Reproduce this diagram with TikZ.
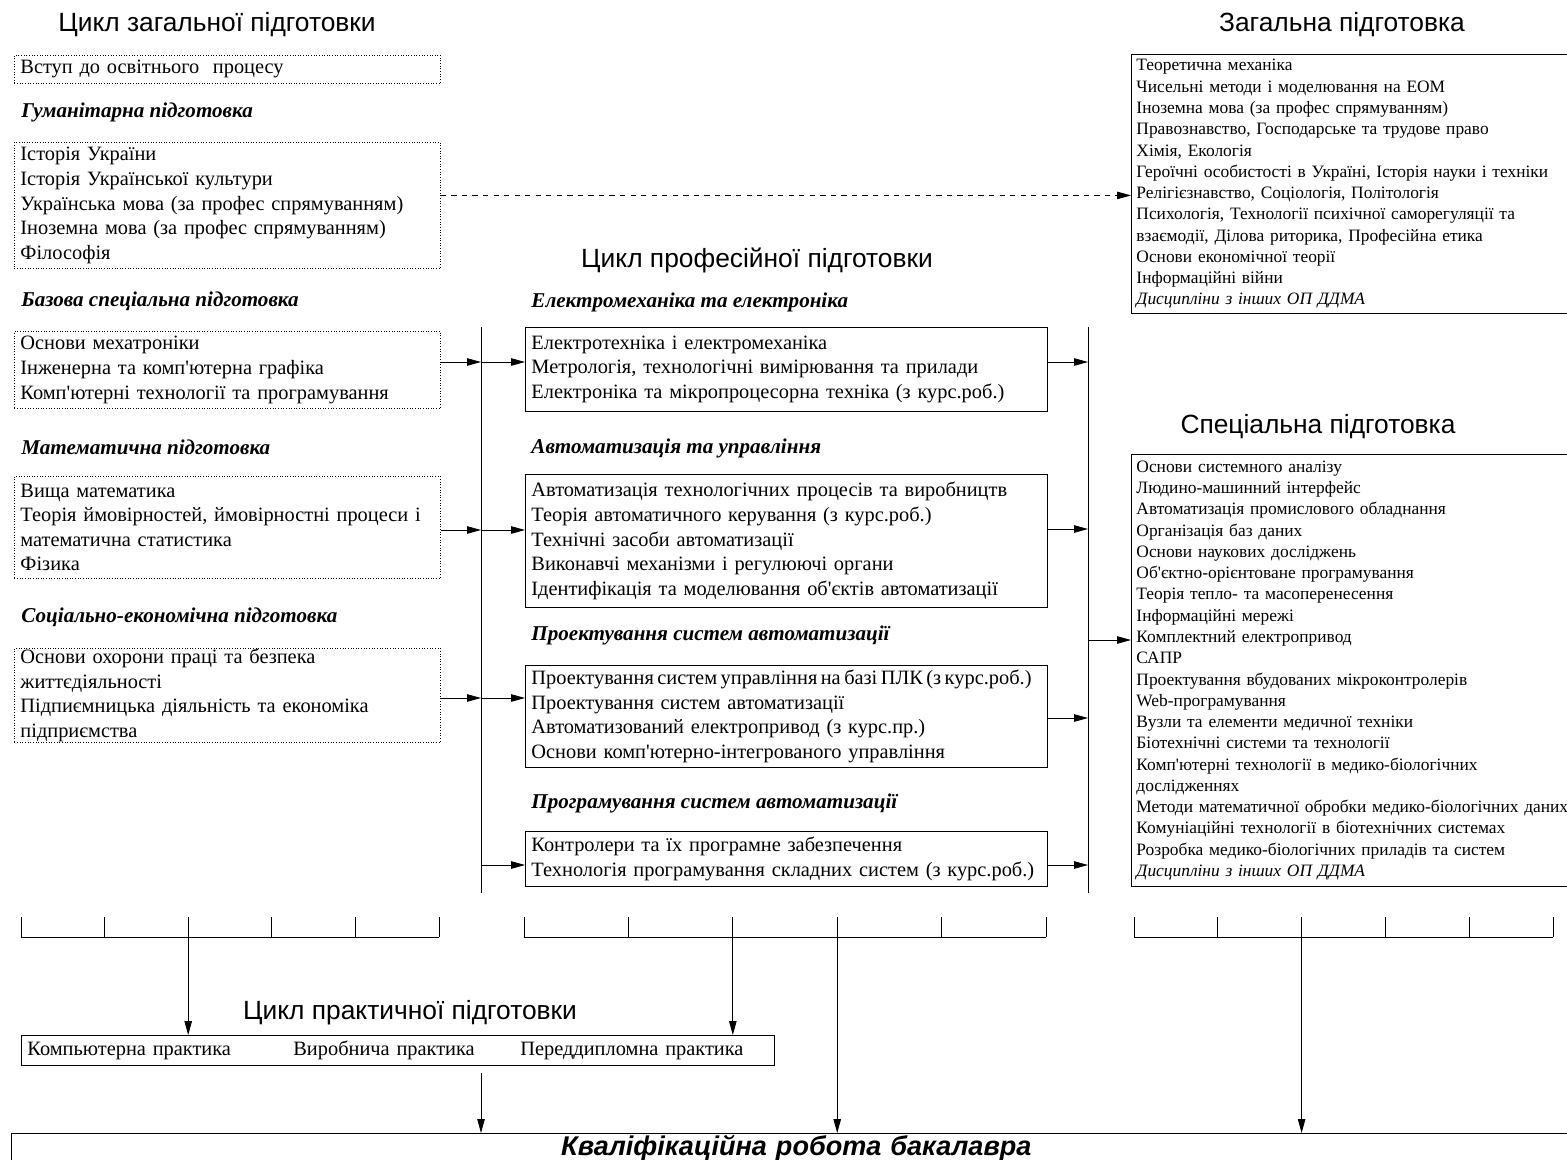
\documentclass[tikz,border=0pt]{standalone}
\usepackage{fontspec}
\setmainfont{Liberation Serif}
\setsansfont{Liberation Sans}
\usetikzlibrary{arrows.meta,calc}

\newcommand\boxfont{\fontsize{11.6}{14}\selectfont}
\newcommand\listfont{\fontsize{9.9}{12.1}\selectfont}
\newcommand\headfont{\fontsize{12}{14}\selectfont\bfseries\itshape}
\newcommand\cyclefont{\fontsize{15}{18}\selectfont\sffamily}
\newcommand\ap{\textquotesingle}
\newcommand\tight[1]{{\spaceskip=0.17em plus 0.02em\relax #1}}

\tikzset{
  >={Triangle[length=0.28cm,width=0.15cm]},
  lbox/.style={draw, densely dotted, anchor=north west, align=left,
    inner xsep=0.12cm, inner ysep=0pt, text width=8.28cm, font=\boxfont},
  mbox/.style={draw, anchor=north west, align=left,
    inner xsep=0.12cm, inner ysep=0pt, text width=10.2cm, font=\boxfont},
  rbox/.style={draw, anchor=north west, align=left,
    inner xsep=0.1cm, inner ysep=0pt, text width=9.2cm, font=\listfont},
  head/.style={anchor=west, inner sep=0pt, font=\headfont},
  cycletitle/.style={inner sep=0pt, font=\cyclefont},
}

\begin{document}
\begin{tikzpicture}[x=0.02cm, y=-0.02cm, line width=0.5pt]
  \useasboundingbox (0,0) rectangle (1567,1159);

  % Цикл загальної підготовки
  \node[cycletitle] (tgen) at (217,25) {Цикл загальної підготовки};
  \node[lbox, minimum height=0.56cm] (vst) at (14,55) {Вступ до освітнього\ \ процесу};
  \node[head] (hhum) at (21,112) {Гуманітарна підготовка};
  \node[lbox, minimum height=2.52cm] (hum) at (14,142)
    {Історія України\\Історія Української культури\\Українська мова (за профес спрямуванням)\\Іноземна мова (за профес спрямуванням)\\Філософія};
  \node[head] (hbas) at (21,301) {Базова спеціальна підготовка};
  \node[lbox, minimum height=1.54cm] (bas) at (14,331)
    {Основи мехатроніки\\Інженерна та комп\ap{}ютерна графіка\\Комп\ap{}ютерні технології та програмування};
  \node[head] (hmat) at (21,447) {Математична підготовка};
  \node[lbox, minimum height=2.04cm] (mat) at (14,476)
    {Вища математика\\Теорія ймовірностей, ймовірностні процеси і\\математична статистика\\Фізика};
  \node[head] (hsoc) at (21,617) {Соціально-економічна підготовка};
  \node[lbox, minimum height=1.88cm] (soc) at (14,648)
    {Основи охорони праці та безпека\\життєдіяльності\\Підпиємницька діяльність та економіка\\підприємства};

  % Цикл професійної підготовки
  \node[cycletitle] (tprof) at (757,260) {Цикл професійної підготовки};
  \node[head] (hem) at (531,302) {Електромеханіка та електроніка};
  \node[mbox, minimum height=1.68cm] (em) at (525,327)
    {Електротехніка і електромеханіка\\Метрологія, технологічні вимірювання та прилади\\Електроніка та мікропроцесорна техніка (з курс.роб.)};
  \node[head] (hau) at (531,448) {Автоматизація та управління};
  \node[mbox, minimum height=2.66cm] (au) at (525,474)
    {Автоматизація технологічних процесів та виробництв\\Теорія автоматичного керування (з курс.роб.)\\Технічні засоби автоматизації\\Виконавчі механізми і регулюючі органи\\Ідентифікація та моделювання об\ap{}єктів автоматизації};
  \node[head] (hps) at (531,635) {Проектування систем автоматизації};
  \node[mbox, minimum height=2.04cm] (ps) at (525,665)
    {\tight{Проектування систем управління на базі ПЛК (з курс.роб.)}\\Проектування систем автоматизації\\Автоматизований електропривод (з курс.пр.)\\Основи комп\ap{}ютерно-інтегрованого управління};
  \node[head] (hpr) at (531,803) {Програмування систем автоматизації};
  \node[mbox, minimum height=1.1cm] (pr) at (525,831)
    {Контролери та їх програмне забезпечення\\Технологія програмування складних систем (з курс.роб.)};

  % Загальна та спеціальна підготовка
  \node[cycletitle] (tzag) at (1342,25) {Загальна підготовка};
  \node[rbox, minimum height=5.18cm] (zag) at (1131,54)
    {Теоретична механіка\\Чисельні методи і моделювання на ЕОМ\\Іноземна мова (за профес спрямуванням)\\Правознавство, Господарське та трудове право\\Хімія, Екологія\\Героїчні особистості в Україні, Історія науки і техніки\\Релігієзнавство, Соціологія, Політологія\\Психологія, Технології психічної саморегуляції та\\взаємодії, Ділова риторика, Професійна етика\\Основи економічної теорії\\Інформаційні війни\\\textit{Дисципліни з інших ОП ДДМА}};
  \node[cycletitle] (tspec) at (1318,427) {Спеціальна підготовка};
  \node[rbox, minimum height=8.64cm] (spec) at (1131,454)
    {Основи системного аналізу\\Людино-машинний інтерфейс\\Автоматизація промислового обладнання\\Організація баз даних\\Основи наукових досліджень\\Об\ap{}єктно-орієнтоване програмування\\Теорія тепло- та масоперенесення\\Інформаційні мережі\\Комплектний електропривод\\САПР\\Проектування вбудованих мікроконтролерів\\Web-програмування\\Вузли та елементи медичної техніки\\Біотехнічні системи та технології\\Комп\ap{}ютерні технології в медико-біологічних\\дослідженнях\\Методи математичної обробки медико-біологічних даних\\Комуніаційні технології в біотехнічних системах\\Розробка медико-біологічних приладів та систем\\\textit{Дисципліни з інших ОП ДДМА}};

  % Цикл практичної підготовки
  \node[cycletitle] (tprak) at (410,1013) {Цикл практичної підготовки};
  \node[mbox, text width=14.82cm, minimum height=0.6cm] (prak) at (21,1035)
    {\makebox[5.32cm][l]{Компьютерна практика}\makebox[4.54cm][l]{Виробнича практика}Переддипломна практика};
  \node[draw, anchor=north west, inner xsep=0.1cm, inner ysep=0pt, text width=31.2cm,
    align=center, minimum height=0.6cm, font=\fontsize{15.4}{19}\selectfont\sffamily\bfseries\itshape]
    (kval) at (11,1133) {Кваліфікаційна робота бакалавра};

  % Шини
  \path
    (481,327) coordinate (lbtop)
    (481,893) coordinate (lbbot)
    (1088,327) coordinate (rbtop)
    (1088,893) coordinate (rbbot)
  ;
  \draw (lbtop) -- (lbbot);
  \draw (rbtop) -- (rbbot);
  \foreach \r/\y in {1/362,2/530,3/698,4/865}
    \coordinate (L\r) at (481,\y);
  \foreach \r/\y in {1/362,2/529,3/718,4/865,5/640}
    \coordinate (R\r) at (1088,\y);

  % Стрілки
  \draw[->] (bas.east |- L1) -- (L1);
  \draw[->] (mat.east |- L2) -- (L2);
  \draw[->] (soc.east |- L3) -- (L3);
  \foreach \r/\b in {1/em,2/au,3/ps,4/pr} {
    \draw[->] (L\r) -- (\b.west |- L\r);
    \draw[->] (\b.east |- R\r) -- (R\r);
  }
  \draw[->] (R5) -- (spec.west |- R5);
  \draw[dashed,->] ($(hum.east)+(0,-10)$) -- ($(hum.east -| zag.west)+(0,-10)$);

  % Гребінки
  \foreach \n/\xa/\xb in {l/21/439,m/524/1046,r/1134/1553} {
    \draw (\xa,937) -- (\xb,937);
    \foreach \k in {0,...,5}
      \draw ({\xa+\k*(\xb-\xa)/5},917) -- ({\xa+\k*(\xb-\xa)/5},937) coordinate (\n\k);
  }
  \draw[->] (l2) -- (l2 |- prak.north);
  \draw[->] (m2) -- (m2 |- prak.north);
  \draw[->] (m3) -- (m3 |- kval.north);
  \draw[->] (r2) -- (r2 |- kval.north);
  \draw[->] ($(lbbot |- prak.south)+(0,7)$) -- (lbbot |- kval.north);
\end{tikzpicture}
\end{document}
